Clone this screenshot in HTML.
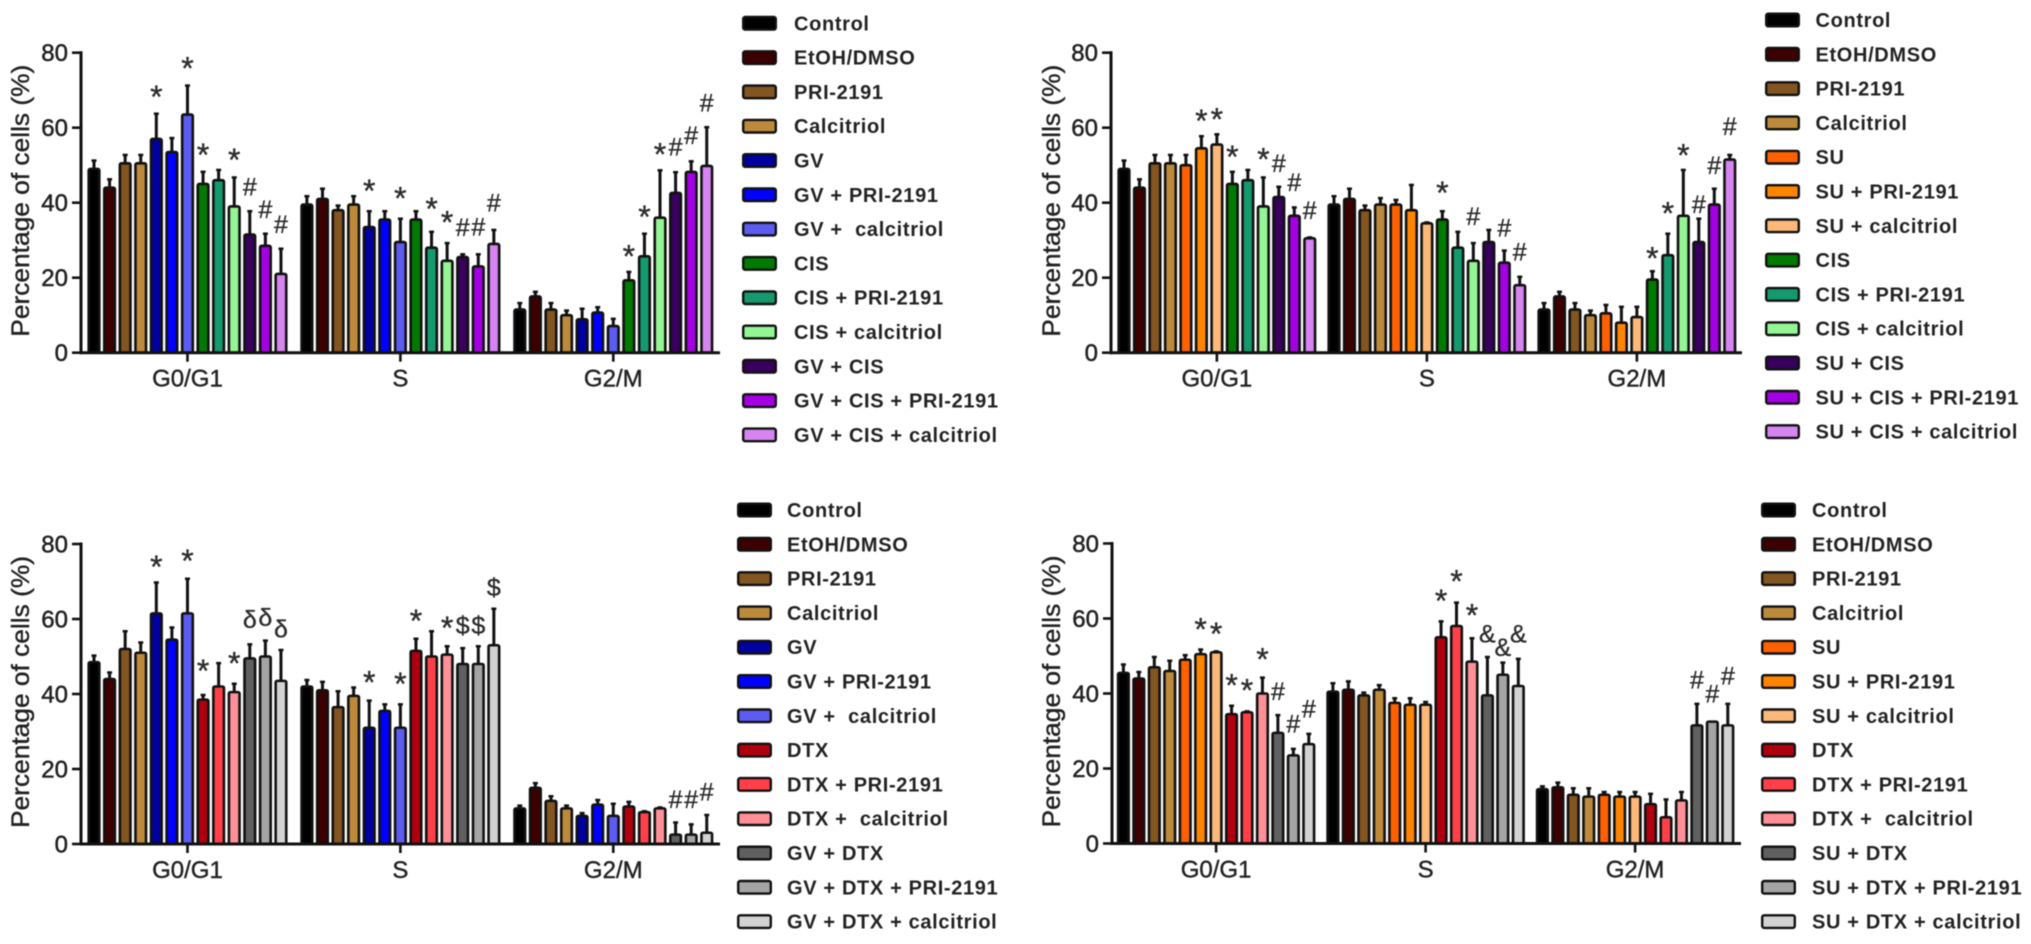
<!DOCTYPE html>
<html lang="en">
<head>
<meta charset="utf-8">
<title>Cell cycle distribution charts</title>
<style>
html,body{margin:0;padding:0;background:#fff;width:2031px;height:944px;overflow:hidden}
svg{display:block;filter:blur(0.55px)}
text{font-family:"Liberation Sans",sans-serif;white-space:pre}
</style>
</head>
<body>
<svg id="figure" xmlns="http://www.w3.org/2000/svg" width="2031" height="944" viewBox="0 0 2031 944"></svg>
<script>
const categories = ["G0/G1", "S", "G2/M"];
const yTicks = [0, 20, 40, 60, 80];
const yTitle = "Percentage of cells (%)";

const labelsA = ["Control","EtOH/DMSO","PRI-2191","Calcitriol","GV","GV + PRI-2191","GV +  calcitriol","CIS","CIS + PRI-2191","CIS + calcitriol","GV + CIS","GV + CIS + PRI-2191","GV + CIS + calcitriol"];
const labelsB = ["Control","EtOH/DMSO","PRI-2191","Calcitriol","SU","SU + PRI-2191","SU + calcitriol","CIS","CIS + PRI-2191","CIS + calcitriol","SU + CIS","SU + CIS + PRI-2191","SU + CIS + calcitriol"];
const labelsC = ["Control","EtOH/DMSO","PRI-2191","Calcitriol","GV","GV + PRI-2191","GV +  calcitriol","DTX","DTX + PRI-2191","DTX +  calcitriol","GV + DTX","GV + DTX + PRI-2191","GV + DTX + calcitriol"];
const labelsD = ["Control","EtOH/DMSO","PRI-2191","Calcitriol","SU","SU + PRI-2191","SU + calcitriol","DTX","DTX + PRI-2191","DTX +  calcitriol","SU + DTX","SU + DTX + PRI-2191","SU + DTX + calcitriol"];

const colorsA = ["#000000","#3c0000","#835520","#bd8a3c","#0000a0","#0000ff","#5c5cf0","#007a00","#149a6e","#94f594","#38005c","#a400e4","#d584f0"];
const colorsB = ["#000000","#3c0000","#835520","#bd8a3c","#ff6000","#ff8400","#fbb878","#007a00","#149a6e","#94f594","#38005c","#a400e4","#d584f0"];
const colorsC = ["#000000","#3c0000","#835520","#bd8a3c","#0000a0","#0000ff","#5c5cf0","#b00010","#ff4048","#ff9098","#606060","#a4a4a4","#d2d2d2"];
const colorsD = ["#000000","#3c0000","#835520","#bd8a3c","#ff6000","#ff8400","#fbb878","#b00010","#ff4048","#ff9098","#606060","#a4a4a4","#d2d2d2"];

const meansA = [
  [49,44,50.5,50.5,57,53.5,63.5,45,46,39,31.5,28.5,21],
  [39.5,41,38,39.5,33.5,35.5,29.5,35.5,28,24.5,25.5,23,29],
  [11.5,15,11.5,10,8.9,10.7,7.1,19.3,25.7,36,42.6,48.2,49.8]
];
const topsA = [
  [51.5,46.5,53,53,64,57.5,71.5,48.5,49,47,38,32,28],
  [42,44,39.5,42,38,38,36,38,32.5,29.5,26.5,26.5,33],
  [13.5,16.5,13.5,11.5,12,12.4,9.3,21.8,32,48.9,48.4,51.3,60.4]
];
const marksA = [
  [null,null,null,null,["*",70],null,["*",77.7],["*",54.6],null,["*",53.2],["#",44.3],["#",38.3],["#",34.3]],
  [null,null,null,null,["*",45],null,["*",43],null,["*",40.2],["*",36.6],["#",33.5],["#",33.7],["#",40]],
  [null,null,null,null,null,null,null,["*",27.5],["*",38],["*",54.7],["#",55],["#",58],["#",66.7]]
];

const meansB = [
  [49,44,50.5,50.5,50,54.5,55.5,45,46,39,41.5,36.5,30.5],
  [39.5,41,38,39.5,39.5,38,34.5,35.5,28,24.5,29.5,24,18],
  [11.5,15,11.5,10,10.5,8,9.5,19.5,26,36.5,29.5,39.5,51.5]
];
const topsB = [
  [51.5,46.5,53,53,53,58,58.5,48.5,49,47,44.5,39,31],
  [42,44,39.5,41.5,41,45,35,38,32.5,29.5,33,27.5,20.5],
  [13.5,16.5,13.5,11.5,13,12.5,12.5,22,32,49,36,44,53]
];
const marksB = [
  [null,null,null,null,null,["*",63.7],["*",64],["*",54],null,["*",53.4],["#",50.6],["#",45.5],["#",38]],
  [null,null,null,null,null,null,null,["*",44.5],null,["#",36.5],null,["#",33.4],["#",27]],
  [null,null,null,null,null,null,null,["*",27],["*",39],["*",54.5],["#",39.6],["#",50],["#",60.4]]
];

const meansC = [
  [48.5,44,52,51,61.5,54.5,61.5,38.5,42,40.5,49.5,50,43.5],
  [42,41,36.5,39.5,31,35.5,31,51.5,50,50.5,48,48,53],
  [9.5,15,11.5,9.5,7.5,10.5,7.5,10,8.5,9.5,2.5,2.5,3]
];
const topsC = [
  [50.5,46,57,54,70,58,71,40,48.5,43,53.5,54.5,52],
  [44,43.5,41,42,38.5,37.5,37.5,55,57,53,52.5,53,63],
  [10.5,16.5,13,10.5,8.5,12,11,11.5,9,10,6,5.5,8]
];
const marksC = [
  [null,null,null,null,["*",75.7],null,["*",77.3],["*",48],null,["*",50],["δ",60],["δ",60.6],["δ",57.5]],
  [null,null,null,null,["*",45],null,["*",44.5],["*",61.3],null,["*",59.5],["$",58.4],["$",58.4],["$",68.6]],
  [null,null,null,null,null,null,null,null,null,null,["#",12],["#",12],["#",14]]
];

const meansD = [
  [45.5,44,47,46,49,50.5,51,34.5,35,40,29.5,23.5,26.5],
  [40.5,41,39.5,41,37.5,37,37,55,58,48.5,39.5,45,42],
  [14.5,15,13,12.5,13,12.5,12.5,10.5,7,11.5,31.5,32.5,31.5]
];
const topsD = [
  [48,46,50,49,50.5,52,51.5,37,35.5,44.5,34.5,25.5,29.5],
  [43,43.5,40.5,42.5,39,39,38,59.5,64.5,55,50,48.5,49.5],
  [15.5,16.5,15,15,14,14,14,13.5,12,14,37.5,32.5,37.5]
];
const marksD = [
  [null,null,null,null,null,["*",59],["*",57.7],["*",44],["*",42.7],["*",51],["#",40.7],["#",32],["#",36]],
  [null,null,null,null,null,null,null,["*",66.6],["*",71.7],["*",62.7],["&",56],["&",52.4],["&",56]],
  [null,null,null,null,null,null,null,null,null,null,["#",43.7],["#",40],["#",44.8]]
];

const panels = [
  {id:"gv-cis",labels:labelsA,colors:colorsA,means:meansA,tops:topsA,marks:marksA,axisX:81,y80:52.7,firstBar:94,spacing:15.58,step:212.9,axisEnd:720,titleX:29,swatchX:742,textX:794,legendY:23.3},
  {id:"su-cis",labels:labelsB,colors:colorsB,means:meansB,tops:topsB,marks:marksB,axisX:1111,y80:52.7,firstBar:1124,spacing:15.48,step:210,axisEnd:1742,titleX:1060,swatchX:1765,textX:1815.5,legendY:20},
  {id:"gv-dtx",labels:labelsC,colors:colorsC,means:meansC,tops:topsC,marks:marksC,axisX:81,y80:544,firstBar:94,spacing:15.58,step:212.9,axisEnd:720,titleX:29,swatchX:737,textX:787,legendY:510},
  {id:"su-dtx",labels:labelsD,colors:colorsD,means:meansD,tops:topsD,marks:marksD,axisX:1112,y80:543.5,firstBar:1123.4,spacing:15.45,step:209.5,axisEnd:1741,titleX:1060,swatchX:1761,textX:1812,legendY:510}
];

const NS = "http://www.w3.org/2000/svg";
const root = document.getElementById("figure");
const ink = "#111";
const textInk = "#222";

function make(tag, attrs, parent, content) {
  const el = document.createElementNS(NS, tag);
  for (const k in attrs) el.setAttribute(k, attrs[k]);
  if (content !== undefined) el.textContent = content;
  parent.appendChild(el);
  return el;
}

panels.forEach(function (p) {
  const scaleY = function (v) { return p.y80 + 300 - v * 3.75; };
  const scaleX = function (g, i) { return p.firstBar + g * p.step + i * p.spacing; };
  const y0 = scaleY(0);

  const g = make("g", {}, root);
  
  

  // bars, error bars and significance marks
  categories.forEach(function (cat, gi) {
    p.means[gi].forEach(function (val, i) {
      const cx = scaleX(gi, i);
      const err = make("line", {x1:cx,x2:cx,y1:scaleY(val),y2:scaleY(p.tops[gi][i]),stroke:ink,"stroke-width":3}, g);
      
      
      const cap = make("line", {x1:cx-2.5,x2:cx+2.5,y1:scaleY(p.tops[gi][i])+1,y2:scaleY(p.tops[gi][i])+1,stroke:ink,"stroke-width":2.5}, g);
      
      
      const bar = make("rect", {x:cx-5.3,y:scaleY(val),width:10.6,height:y0-scaleY(val),rx:1.5,fill:p.colors[i],stroke:ink,"stroke-width":2.6}, g);
      
      
      const mk = p.marks[gi][i];
      if (mk) {
        const star = mk[0] === "*";
        const size = star ? 32 : 25;
        const off = star ? 18 : 9;
        const t = make("text", {x:cx,y:scaleY(mk[1])+off,"text-anchor":"middle","font-size":size,fill:"#2c2c2c",stroke:"#2c2c2c","stroke-width":0.35}, g, mk[0]);
        
        
      }
    });
  });

  // axes
  const yAxis = make("line", {x1:p.axisX,x2:p.axisX,y1:p.y80-1.5,y2:y0+1.5,stroke:ink,"stroke-width":3}, g);
  
  
  const xAxis = make("line", {x1:p.axisX,x2:p.axisEnd,y1:y0,y2:y0,stroke:ink,"stroke-width":3}, g);
  
  

  yTicks.forEach(function (v) {
    const tk = make("line", {x1:p.axisX-9,x2:p.axisX,y1:scaleY(v),y2:scaleY(v),stroke:ink,"stroke-width":2.6}, g);
    
    
    const lab = make("text", {x:p.axisX-13,y:scaleY(v)+8.5,"text-anchor":"end","font-size":24,fill:textInk,stroke:textInk,"stroke-width":0.5}, g, String(v));
    
    
  });

  categories.forEach(function (cat, gi) {
    const cx = scaleX(gi, 6);
    const tk = make("line", {x1:cx,x2:cx,y1:y0,y2:y0+9,stroke:ink,"stroke-width":2.6}, g);
    
    
    const lab = make("text", {x:cx,y:y0+34,"text-anchor":"middle","font-size":24,fill:textInk,stroke:textInk,"stroke-width":0.4}, g, cat);
    
    
  });

  const midY = p.y80 + 148;
  const title = make("text", {x:p.titleX,y:midY,"text-anchor":"middle","font-size":25,fill:textInk,stroke:textInk,"stroke-width":0.4,textLength:272,lengthAdjust:"spacingAndGlyphs",transform:"rotate(-90 "+p.titleX+" "+midY+")"}, g, yTitle);
  
  

  // legend
  p.labels.forEach(function (label, i) {
    const ly = p.legendY + i * 34.3;
    const sw = make("rect", {x:p.swatchX+1.2,y:ly-6.3,width:32.6,height:12.6,rx:2,fill:p.colors[i],stroke:ink,"stroke-width":2.4}, g);
    
    
    const tx = make("text", {x:p.textX,y:ly+7,"font-size":20,"font-weight":"bold","letter-spacing":0.65,fill:textInk}, g, label);
    
    
  });
});
</script>
</body>
</html>
